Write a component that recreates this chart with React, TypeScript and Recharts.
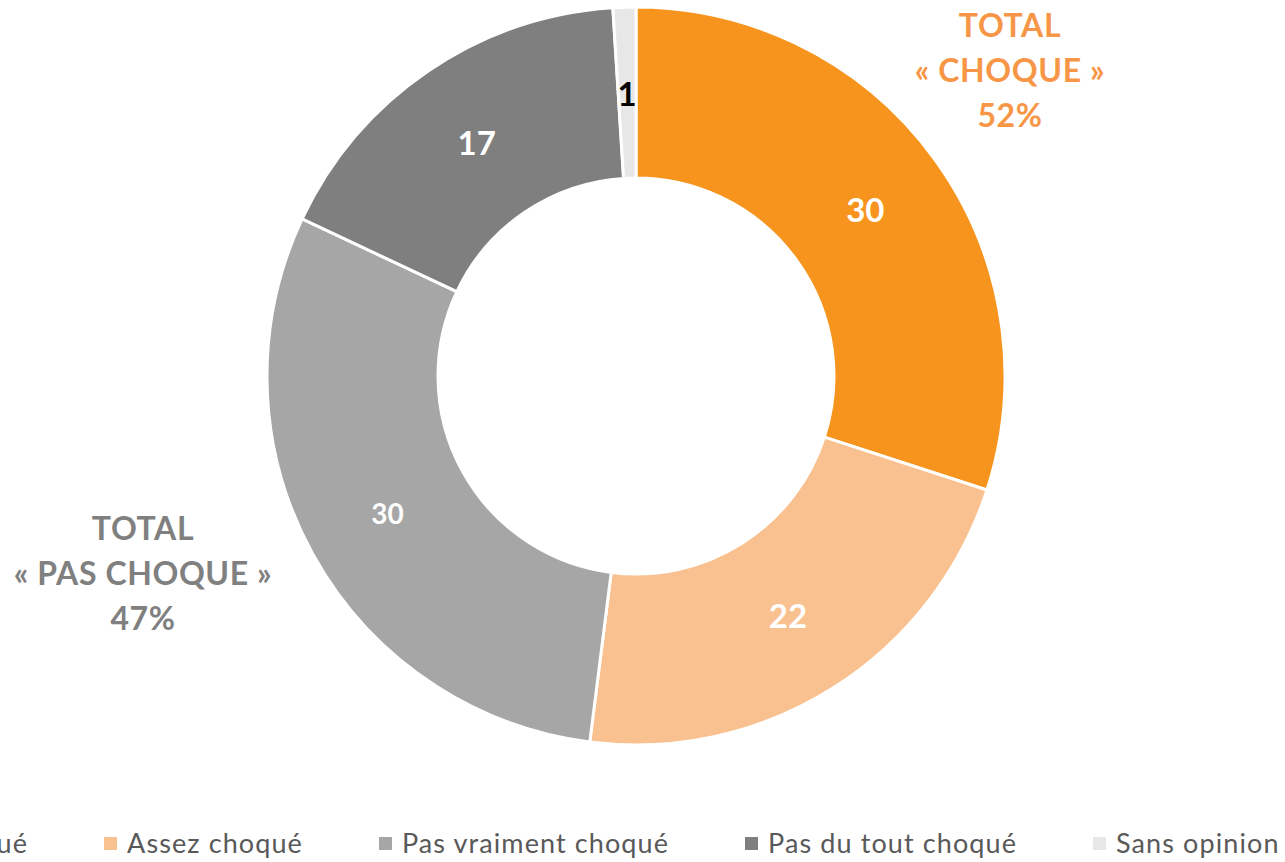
import React from 'react';
import { PieChart, Pie, Cell } from 'recharts';

const categories = ['Très choqué', 'Assez choqué', 'Pas vraiment choqué', 'Pas du tout choqué', 'Sans opinion'];
const values = [30, 22, 30, 17, 1];
const totalChoque = ['TOTAL', '« CHOQUE »', '52%'];
const totalPasChoque = ['TOTAL', '« PAS CHOQUE »', '47%'];

const COLORS = ['#F7941E', '#F9C18F', '#A6A6A6', '#7F7F7F', '#E7E7E7'];
const LABEL_COLORS = ['#fff', '#fff', '#fff', '#fff', '#000'];
const LABEL_SIZES = [33, 33, 28, 33, 33];

const data = categories.map((name, i) => ({ name, value: values[i] }));

const FONT = 'Lato, "Open Sans", sans-serif';
const RADIAN = Math.PI / 180;

const renderLabel = (props: any) => {
  const { cx, cy, midAngle, innerRadius, outerRadius, index, value } = props;
  const r = (innerRadius + outerRadius) / 2;
  const x = cx + r * Math.cos(-midAngle * RADIAN);
  const y = cy + r * Math.sin(-midAngle * RADIAN);
  return (
    <text
      x={x}
      y={y}
      fill={LABEL_COLORS[index]}
      fontSize={LABEL_SIZES[index]}
      fontWeight="bold"
      fontFamily={FONT}
      textAnchor="middle"
      dominantBaseline="central"
    >
      {value}
    </text>
  );
};

const TotalBlock = ({ lines, color, centerX, top }: { lines: string[]; color: string; centerX: number; top: number }) => (
  <div
    style={{
      position: 'absolute',
      left: centerX - 150,
      top,
      width: 300,
      textAlign: 'center',
      color,
      fontFamily: FONT,
      fontWeight: 'bold',
      fontSize: 32,
      letterSpacing: 0.6,
      lineHeight: '45px',
      whiteSpace: 'nowrap',
    }}
  >
    {lines.map((l) => (
      <div key={l}>{l}</div>
    ))}
  </div>
);

const LegendItem = ({ i }: { i: number }) => (
  <div style={{ display: 'flex', alignItems: 'center', whiteSpace: 'nowrap' }}>
    <span style={{ width: 13, height: 13, background: COLORS[i], marginRight: 10, display: 'inline-block' }} />
    <span>{categories[i]}</span>
  </div>
);

export default function App() {
  return (
    <div style={{ position: 'absolute', left: 0, top: 0, width: 1285, height: 862, overflow: 'hidden', background: '#fff' }}>
      <PieChart width={1285} height={862} margin={{ top: 0, right: 0, bottom: 0, left: 0 }}>
        <Pie
          data={data}
          dataKey="value"
          nameKey="name"
          cx={636}
          cy={376}
          innerRadius={198}
          outerRadius={369}
          startAngle={90}
          endAngle={-270}
          stroke="#fff"
          strokeWidth={3}
          label={renderLabel}
          labelLine={false}
          isAnimationActive={false}
        >
          {data.map((d, i) => (
            <Cell key={d.name} fill={COLORS[i]} />
          ))}
        </Pie>
      </PieChart>
      <TotalBlock lines={totalChoque} color="#F79646" centerX={1010} top={2} />
      <TotalBlock lines={totalPasChoque} color="#808080" centerX={143} top={505} />
      <div
        style={{
          position: 'absolute',
          left: 104,
          top: 826,
          display: 'flex',
          gap: 76,
          fontFamily: FONT,
          fontSize: 27,
          letterSpacing: 1.1,
          lineHeight: '34px',
          color: '#595959',
        }}
      >
        <div style={{ position: 'absolute', right: 'calc(100% + 76px)', top: 0 }}>
          <LegendItem i={0} />
        </div>
        {[1, 2, 3, 4].map((i) => (
          <LegendItem key={i} i={i} />
        ))}
      </div>
    </div>
  );
}
